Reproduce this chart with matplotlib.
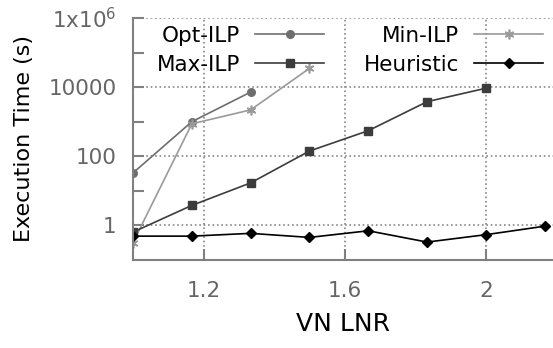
import matplotlib
matplotlib.use("Agg")
import matplotlib.pyplot as plt
from matplotlib.ticker import FixedLocator, FixedFormatter

# VN LNR values (x) and execution times in seconds
x_all = [1.0, 1.1667, 1.3333, 1.5, 1.6667, 1.8333, 2.0, 2.1667]
opt_ilp = [33, 1000, 7200]
min_ilp = [0.32, 870, 2200, 35000]
max_ilp = [0.64, 3.8, 17, 142, 550, 3800, 9300]
heuristic = [0.49, 0.49, 0.59, 0.45, 0.70, 0.33, 0.54, 0.95]

y_major = [1, 100, 1e4, 1e6]
y_major_labels = ["1", "100", "10000", "1x10$^{6}$"]
y_minor = [10, 1000, 1e5]
x_ticks = [1.2, 1.6, 2.0]
x_tick_labels = ["1.2", "1.6", "2"]

fig = plt.figure(figsize=(5.53, 3.48), dpi=100)
ax = fig.add_axes([133 / 553, 1 - 260 / 348, 1 - 133 / 553, 242 / 348])

l_opt, = ax.plot(x_all[:len(opt_ilp)], opt_ilp, color="#6e6e6e", lw=1.2,
                 marker="o", ms=5.5, label="Opt-ILP")
l_min, = ax.plot(x_all[:len(min_ilp)], min_ilp, color="#9a9a9a", lw=1.2,
                 marker=(6, 2, 0), ms=7, mew=1.2, label="Min-ILP")
l_max, = ax.plot(x_all[:len(max_ilp)], max_ilp, color="#3c3c3c", lw=1.2,
                 marker="s", ms=6, label="Max-ILP")
l_heu, = ax.plot(x_all, heuristic, color="black", lw=1.2,
                 marker="D", ms=5, label="Heuristic")

ax.set_yscale("log")
ax.set_ylim(0.1, 1e6)
ax.set_xlim(1.0, 2.19)
ax.yaxis.set_major_locator(FixedLocator(y_major))
ax.yaxis.set_major_formatter(FixedFormatter(y_major_labels))
ax.yaxis.set_minor_locator(FixedLocator(y_minor))
ax.yaxis.set_minor_formatter(FixedFormatter([]))
ax.set_xticks(x_ticks)
ax.set_xticklabels(x_tick_labels)

for s in ["top", "right"]:
    ax.spines[s].set_visible(False)
for s in ["left", "bottom"]:
    ax.spines[s].set_color("#808080")
    ax.spines[s].set_linewidth(1.5)
ax.tick_params(which="both", direction="in", color="#808080", width=1.5,
               length=8, labelcolor="#666666", labelsize=15.5)
ax.tick_params(axis="y", pad=12)
ax.tick_params(axis="x", pad=15)
ax.grid(True, which="major", linestyle=":", color="#888888", lw=1.2)
ax.set_axisbelow(True)

ax.set_xlabel("VN LNR", fontsize=18, labelpad=8)
ax.set_ylabel("Execution Time (s)", fontsize=16, labelpad=10)

ax.legend([l_opt, l_max, l_min, l_heu],
          ["Opt-ILP", "Max-ILP", "Min-ILP", "Heuristic"],
          ncol=2, markerfirst=False, frameon=False, loc="upper right",
          fontsize=15.5, handlelength=3.2, columnspacing=1.85,
          labelspacing=0.42, handletextpad=0.7,
          bbox_to_anchor=(0.997, 1.003), borderaxespad=0.0)

fig.savefig("out.png", dpi=100)
